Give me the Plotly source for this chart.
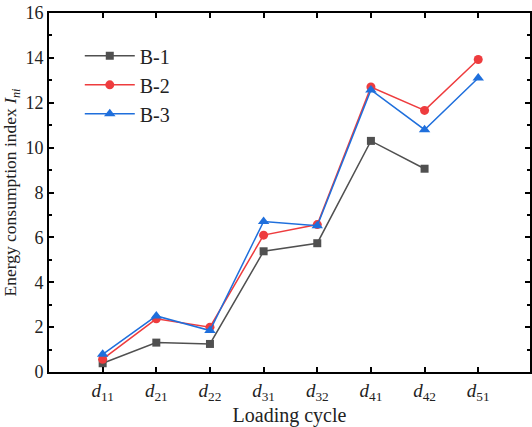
import plotly.graph_objects as go

categories = ["d11", "d21", "d22", "d31", "d32", "d41", "d42", "d51"]
cat_labels = ["<i>d</i><sub>11</sub>", "<i>d</i><sub>21</sub>", "<i>d</i><sub>22</sub>",
              "<i>d</i><sub>31</sub>", "<i>d</i><sub>32</sub>", "<i>d</i><sub>41</sub>",
              "<i>d</i><sub>42</sub>", "<i>d</i><sub>51</sub>"]
b1 = [0.39, 1.31, 1.25, 5.38, 5.74, 10.3, 9.06, None]
b2 = [0.57, 2.37, 2.0, 6.1, 6.57, 12.7, 11.66, 13.93]
b3 = [0.79, 2.5, 1.85, 6.71, 6.52, 12.57, 10.8, 13.1]
y_ticks = [0, 2, 4, 6, 8, 10, 12, 14, 16]

xs = list(range(len(categories)))
fig = go.Figure()
series = [
    ("B-1", b1, "#505050", "square", 8),
    ("B-2", b2, "#ee3c3e", "circle", 9),
    ("B-3", b3, "#1f6fdc", "triangle-up", 10),
]
for name, vals, col, sym, sz in series:
    fig.add_trace(go.Scatter(
        x=xs, y=vals, name=name, mode="lines+markers",
        line=dict(color=col, width=1.5),
        marker=dict(symbol=sym, size=sz, color=col),
        connectgaps=False,
    ))

font_family = "Liberation Serif"
fig.update_layout(
    width=532, height=427,
    margin=dict(l=49, r=0, t=13, b=55),
    paper_bgcolor="white", plot_bgcolor="white",
    font=dict(family=font_family, size=16, color="#222"),
    showlegend=True,
    legend=dict(x=0.064, y=0.935, xanchor="left", yanchor="top",
                font=dict(size=20, family=font_family, color="#222"),
                bgcolor="rgba(0,0,0,0)", tracegroupgap=0, itemwidth=50),
)
fig.update_xaxes(
    range=[-1.0, 7.965], tickmode="array", tickvals=xs, ticktext=cat_labels,
    showgrid=False, zeroline=False,
    showline=True, linecolor="black", linewidth=2, mirror="ticks",
    ticks="inside", ticklen=5, tickwidth=2, tickcolor="black",
    tickfont=dict(size=19, family=font_family, color="#222"),
    title=dict(text="Loading cycle", font=dict(size=20, family=font_family, color="#222"), standoff=2),
)
fig.update_yaxes(
    range=[0, 16], tickmode="array", tickvals=y_ticks,
    showgrid=False, zeroline=False,
    showline=True, linecolor="black", linewidth=2, mirror="ticks",
    ticks="inside", ticklen=5, tickwidth=2, tickcolor="black",
    minor=dict(dtick=1, ticks="inside", ticklen=3, tickwidth=1.5, tickcolor="black"),
    tickfont=dict(size=18, family=font_family, color="#222"),
    title=dict(text="Energy consumption index <i>I</i><sub><i>ni</i></sub>",
               font=dict(size=17.5, family=font_family, color="#222"), standoff=6),
)
fig.write_html("out.html")
